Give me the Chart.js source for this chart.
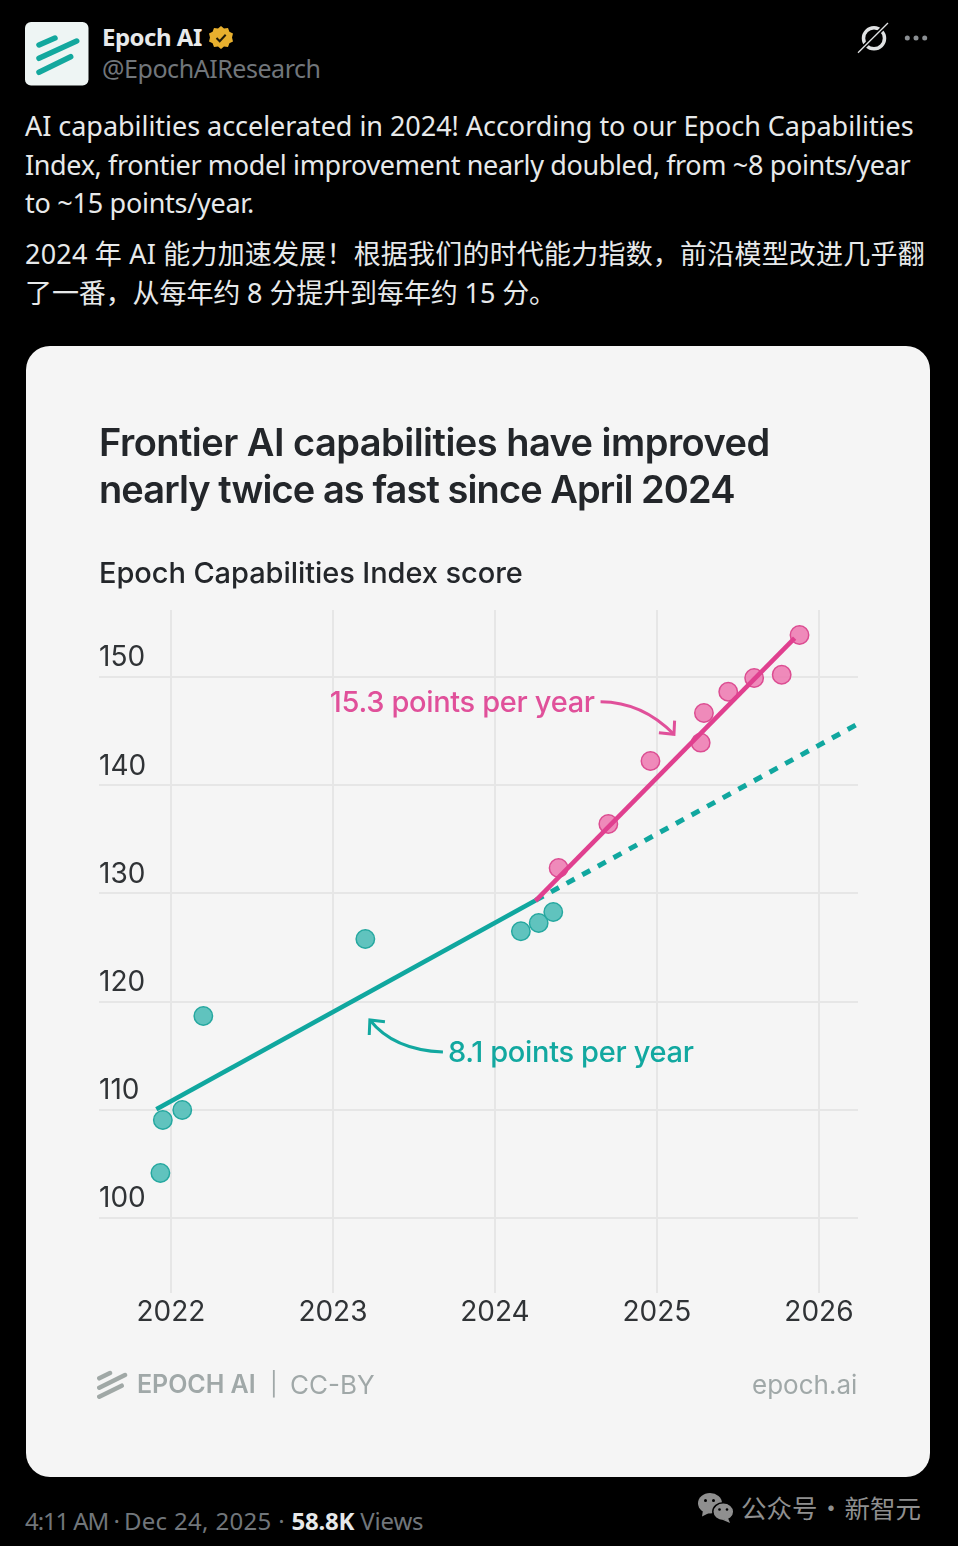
<!DOCTYPE html>
<html>
<head>
<meta charset="utf-8">
<script src="https://cdn.jsdelivr.net/npm/chart.js@4"></script>
<style>
  html, body { margin: 0; padding: 0; background: #000; }
  body { position: relative; width: 958px; height: 1546px; overflow: hidden; font-family: "Open Sans", sans-serif; }
  .t { position: absolute; white-space: nowrap; line-height: 1; }
  .tweet { color: #e7e9ea; font-size: 27px; font-family: "Noto Sans", "Noto Sans CJK SC", sans-serif; }
  #card { position: absolute; left: 26px; top: 346px; width: 904px; height: 1131px; background: #f5f5f5; border-radius: 24px; }
  #chart { position: absolute; left: 26px; top: 346px; }
  .title { color: #23262a; font-family: Inter, sans-serif; font-weight: 600; font-size: 38px; }
  svg { position: absolute; }
</style>
</head>
<body>
<svg style="left:25px;top:22px" width="64" height="64" viewBox="0 0 64 64">
  <rect width="63.500" height="63.500" rx="6" fill="#eef5f4"/>
  <g stroke="#13a89e" stroke-width="5.500" stroke-linecap="round">
    <line x1="14" y1="23" x2="30" y2="16"/>
    <line x1="14" y1="36.300" x2="51.700" y2="19"/>
    <line x1="14" y1="50.300" x2="45.700" y2="34.700"/>
  </g>
</svg>
<div class="t" style="left:102px;top:25px;color:#e7e9ea;font-size:24px;font-weight:700;font-family:'Noto Sans',sans-serif;letter-spacing:-0.5px">Epoch AI</div>
<svg style="left:208px;top:25px" width="26" height="26" viewBox="0 0 26 26">
  <path d="M13 1l3 2.600 4-.6 1.400 3.800 3.600 1.800-1 3.900 1 3.900-3.600 1.800L20 22l-4-.6L13 24l-3-2.600-4 .6-1.400-3.800L1 16.400l1-3.900-1-3.900 3.600-1.800L6 3l4 .6z" fill="#e8b02e"/>
  <path d="M8.500 13l3.200 3.200 6-6.400" fill="none" stroke="#201a08" stroke-width="2"/>
</svg>
<div class="t" style="left:102px;top:56px;color:#71767b;font-size:25px;font-family:'Noto Sans',sans-serif;letter-spacing:-0.45px">@EpochAIResearch</div>
<svg style="left:856px;top:20px" width="36" height="36" viewBox="0 0 36 36" fill="none">
  <ellipse cx="18" cy="18.300" rx="10.500" ry="10.500" stroke="#e0e2e3" stroke-width="3.500"/>
  <line x1="32" y1="3" x2="2" y2="32.700" stroke="#000" stroke-width="4.500"/>
  <line x1="32" y1="3" x2="2" y2="32.700" stroke="#e0e2e3" stroke-width="1.300"/>
</svg>
<svg style="left:902px;top:32px" width="28" height="12" viewBox="0 0 28 12" fill="#8b8f93">
  <circle cx="5.300" cy="6" r="2.500"/><circle cx="14" cy="6" r="2.500"/><circle cx="22.700" cy="6" r="2.500"/>
</svg>

<div class="t tweet" style="left:25px;top:112px;letter-spacing:-0.04px">AI capabilities accelerated in 2024! According to our Epoch Capabilities</div>
<div class="t tweet" style="left:25px;top:151px;letter-spacing:-0.365px">Index, frontier model improvement nearly doubled, from ~8 points/year</div>
<div class="t tweet" style="left:25px;top:189px;letter-spacing:-0.27px">to ~15 points/year.</div>
<div class="t tweet" style="left:25px;top:240px;letter-spacing:0.2px">2024 年 AI 能力加速发展！根据我们的时代能力指数，前沿模型改进几乎翻</div>
<div class="t tweet" style="left:25px;top:279px;letter-spacing:-0.1px">了一番，从每年约 8 分提升到每年约 15 分。</div>

<div id="card"></div>
<canvas id="chart" width="904" height="1131"></canvas>

<div class="t title" style="left:99px;top:423px;letter-spacing:-0.53px">Frontier AI capabilities have improved</div>
<div class="t title" style="left:99px;top:470px;letter-spacing:-0.92px">nearly twice as fast since April 2024</div>
<div class="t" style="left:99px;top:558px;color:#23262a;font-family:Inter,sans-serif;font-weight:500;font-size:29px;letter-spacing:-0.07px">Epoch Capabilities Index score</div>

<svg style="left:97px;top:1370px" width="32" height="30" viewBox="0 0 32 30">
  <g stroke="#a0a8a6" stroke-width="4.500" stroke-linecap="round">
    <line x1="2.300" y1="8.300" x2="13" y2="3"/>
    <line x1="2.300" y1="17.700" x2="28" y2="5"/>
    <line x1="2.300" y1="26.700" x2="24.700" y2="15.700"/>
  </g>
</svg>
<div class="t" style="left:137px;top:1372px;color:#a0a8a8;font-family:Inter,sans-serif;font-weight:600;font-size:25px;letter-spacing:-0.05px">EPOCH AI</div>
<div class="t" style="left:270px;top:1373px;color:#a0a8a8;font-family:Inter,sans-serif;font-size:23px">|</div>
<div class="t" style="left:290px;top:1372px;color:#a0a8a8;font-family:Inter,sans-serif;font-size:26px">CC-BY</div>
<div class="t" style="left:752px;top:1372px;color:#a0a8a8;font-family:Inter,sans-serif;font-size:26px">epoch.ai</div>

<div class="t" style="left:25px;top:1509px;color:#71767b;font-size:24px;font-family:'Noto Sans',sans-serif"><span style="letter-spacing:-1.1px">4:11 AM · </span><span style="letter-spacing:0.32px">Dec 24, 2025 · </span><span style="color:#e7e9ea;font-weight:700;letter-spacing:-0.2px">58.8K</span><span style="letter-spacing:-0.2px"> Views</span></div>

<svg style="left:698px;top:1493px" width="36" height="32" viewBox="0 0 36 32" fill="#8f8f8f">
  <ellipse cx="12" cy="10.300" rx="12" ry="10.300"/>
  <path d="M5 17l-1 6.500 7-3.500z"/>
  <circle cx="7.500" cy="7.500" r="1.500" fill="#000"/><circle cx="15.500" cy="7.500" r="1.500" fill="#000"/>
  <ellipse cx="25.300" cy="18.700" rx="10.500" ry="9" stroke="#000" stroke-width="1.500"/>
  <path d="M30 25l2 5-7-3z"/>
  <circle cx="21.500" cy="16.500" r="1.300" fill="#000"/><circle cx="29" cy="16.500" r="1.300" fill="#000"/>
</svg>
<div class="t" style="left:741px;top:1494px;color:#8f8f8f;font-size:25.500px;word-spacing:-5px;font-family:'Noto Sans CJK SC',sans-serif">公众号 · 新智元</div>

<script>
// values
const xTicks = [2022, 2023, 2024, 2025, 2026];
const yTicks = [100, 110, 120, 130, 140, 150];

const tealX = [2021.935, 2021.95, 2022.07, 2022.20, 2023.20, 2024.16, 2024.27, 2024.36];
const tealY = [104.16, 109.06, 109.98, 118.67, 125.79, 126.5, 127.26, 128.28];

const pinkX = [2024.393, 2024.70, 2024.96, 2025.27, 2025.29, 2025.44, 2025.60, 2025.77, 2025.88];
const pinkY = [132.35, 136.41, 142.24, 143.93, 146.67, 148.64, 149.9, 150.21, 153.88];

const tealTrendX = [2021.91, 2024.25];
const tealTrendY = [110.05, 129.35];
const pinkTrendX = [2024.25, 2025.85];
const pinkTrendY = [129.3, 153.6];
const dashTrendX = [2024.25, 2026.24];
const dashTrendY = [129.35, 145.66];

const TEAL = '#10a79f';
const PINK = '#e0408f';

function pts(xs, ys) {
  return xs.map((x, i) => ({ x: x, y: ys[i] }));
}

// callouts, in data units
const callouts = [
  { text: '15.3 points per year', color: '#e0509a', x: 2022.981, y: 147.6,
    start: [2024.652, 147.72], ctrl: [2024.911, 147.69], tip: [2025.105, 144.70],
    headA: [2025.012, 144.85], headB: [2025.109, 145.96] },
  { text: '8.1 points per year', color: '#12a8a0', x: 2023.71, y: 115.25,
    start: [2023.679, 115.34], ctrl: [2023.373, 115.53], tip: [2023.228, 118.30],
    headA: [2023.321, 118.14], headB: [2023.224, 116.91] },
];

const calloutPlugin = {
  id: 'callouts',
  afterDatasetsDraw(chart) {
    const ctx = chart.ctx;
    const sx = chart.scales.x;
    const sy = chart.scales.y;
    const P = p => [sx.getPixelForValue(p[0]), sy.getPixelForValue(p[1])];
    callouts.forEach(c => {
      ctx.save();
      ctx.strokeStyle = c.color;
      ctx.lineWidth = 3;
      ctx.beginPath();
      ctx.moveTo(...P(c.start));
      ctx.quadraticCurveTo(...P(c.ctrl), ...P(c.tip));
      ctx.stroke();
      ctx.beginPath();
      ctx.moveTo(...P(c.headA));
      ctx.lineTo(...P(c.tip));
      ctx.lineTo(...P(c.headB));
      ctx.stroke();
      ctx.fillStyle = c.color;
      ctx.font = '500 29px Inter, sans-serif';
      ctx.letterSpacing = '-0.33px';
      ctx.textBaseline = 'middle';
      ctx.textAlign = 'left';
      ctx.fillText(c.text, sx.getPixelForValue(c.x), sy.getPixelForValue(c.y));
      ctx.restore();
    });
  }
};

new Chart(document.getElementById('chart'), {
  type: 'scatter',
  plugins: [calloutPlugin],
  data: {
    datasets: [
      { label: 'Pink trend', data: pts(pinkTrendX, pinkTrendY), showLine: true, borderColor: PINK, borderWidth: 4.6, pointRadius: 0, order: 0 },
      { label: 'Teal trend', data: pts(tealTrendX, tealTrendY), showLine: true, borderColor: TEAL, borderWidth: 4.6, pointRadius: 0, order: 1 },
      { label: 'Teal projection', data: pts(dashTrendX, dashTrendY), showLine: true, borderColor: TEAL, borderWidth: 5, borderDash: [9, 8.8], pointRadius: 0, order: 2 },
      { label: 'Before April 2024', data: pts(tealX, tealY), pointRadius: 9.2, pointBackgroundColor: 'rgba(80,190,184,0.9)', pointBorderColor: '#26a8a0', pointBorderWidth: 1.5, order: 3 },
      { label: 'Since April 2024', data: pts(pinkX, pinkY), pointRadius: 9.2, pointBackgroundColor: 'rgba(238,128,180,0.92)', pointBorderColor: '#dc4d92', pointBorderWidth: 1.5, order: 4 },
    ],
  },
  options: {
    responsive: false,
    animation: false,
    layout: { padding: { left: 73, right: 72, top: 264, bottom: 0 } },
    plugins: { legend: { display: false }, tooltip: { enabled: false } },
    scales: {
      x: {
        type: 'linear',
        min: 2021.556,
        max: 2026.241,
        afterBuildTicks: axis => { axis.ticks = xTicks.map(v => ({ value: v })); },
        afterFit: axis => { axis.height = 1477 - 1293; },
        grid: { color: '#e6e6e6', lineWidth: 2, drawTicks: false },
        border: { display: false },
        ticks: {
          callback: v => String(v),
          color: '#303336',
          font: { family: 'Inter, sans-serif', size: 28 },
          padding: 3,
          maxRotation: 0,
        },
      },
      y: {
        type: 'linear',
        min: 93.07,
        max: 156.19,
        afterBuildTicks: axis => { axis.ticks = yTicks.map(v => ({ value: v })); },
        afterFit: axis => { axis.width = 0; },
        grid: { color: '#e6e6e6', lineWidth: 2, drawTicks: false },
        border: { display: false },
        ticks: {
          mirror: true,
          padding: 0,
          labelOffset: -19,
          callback: v => String(v),
          color: '#303336',
          font: { family: 'Inter, sans-serif', size: 28 },
        },
      },
    },
  },
});
</script>
</body>
</html>
